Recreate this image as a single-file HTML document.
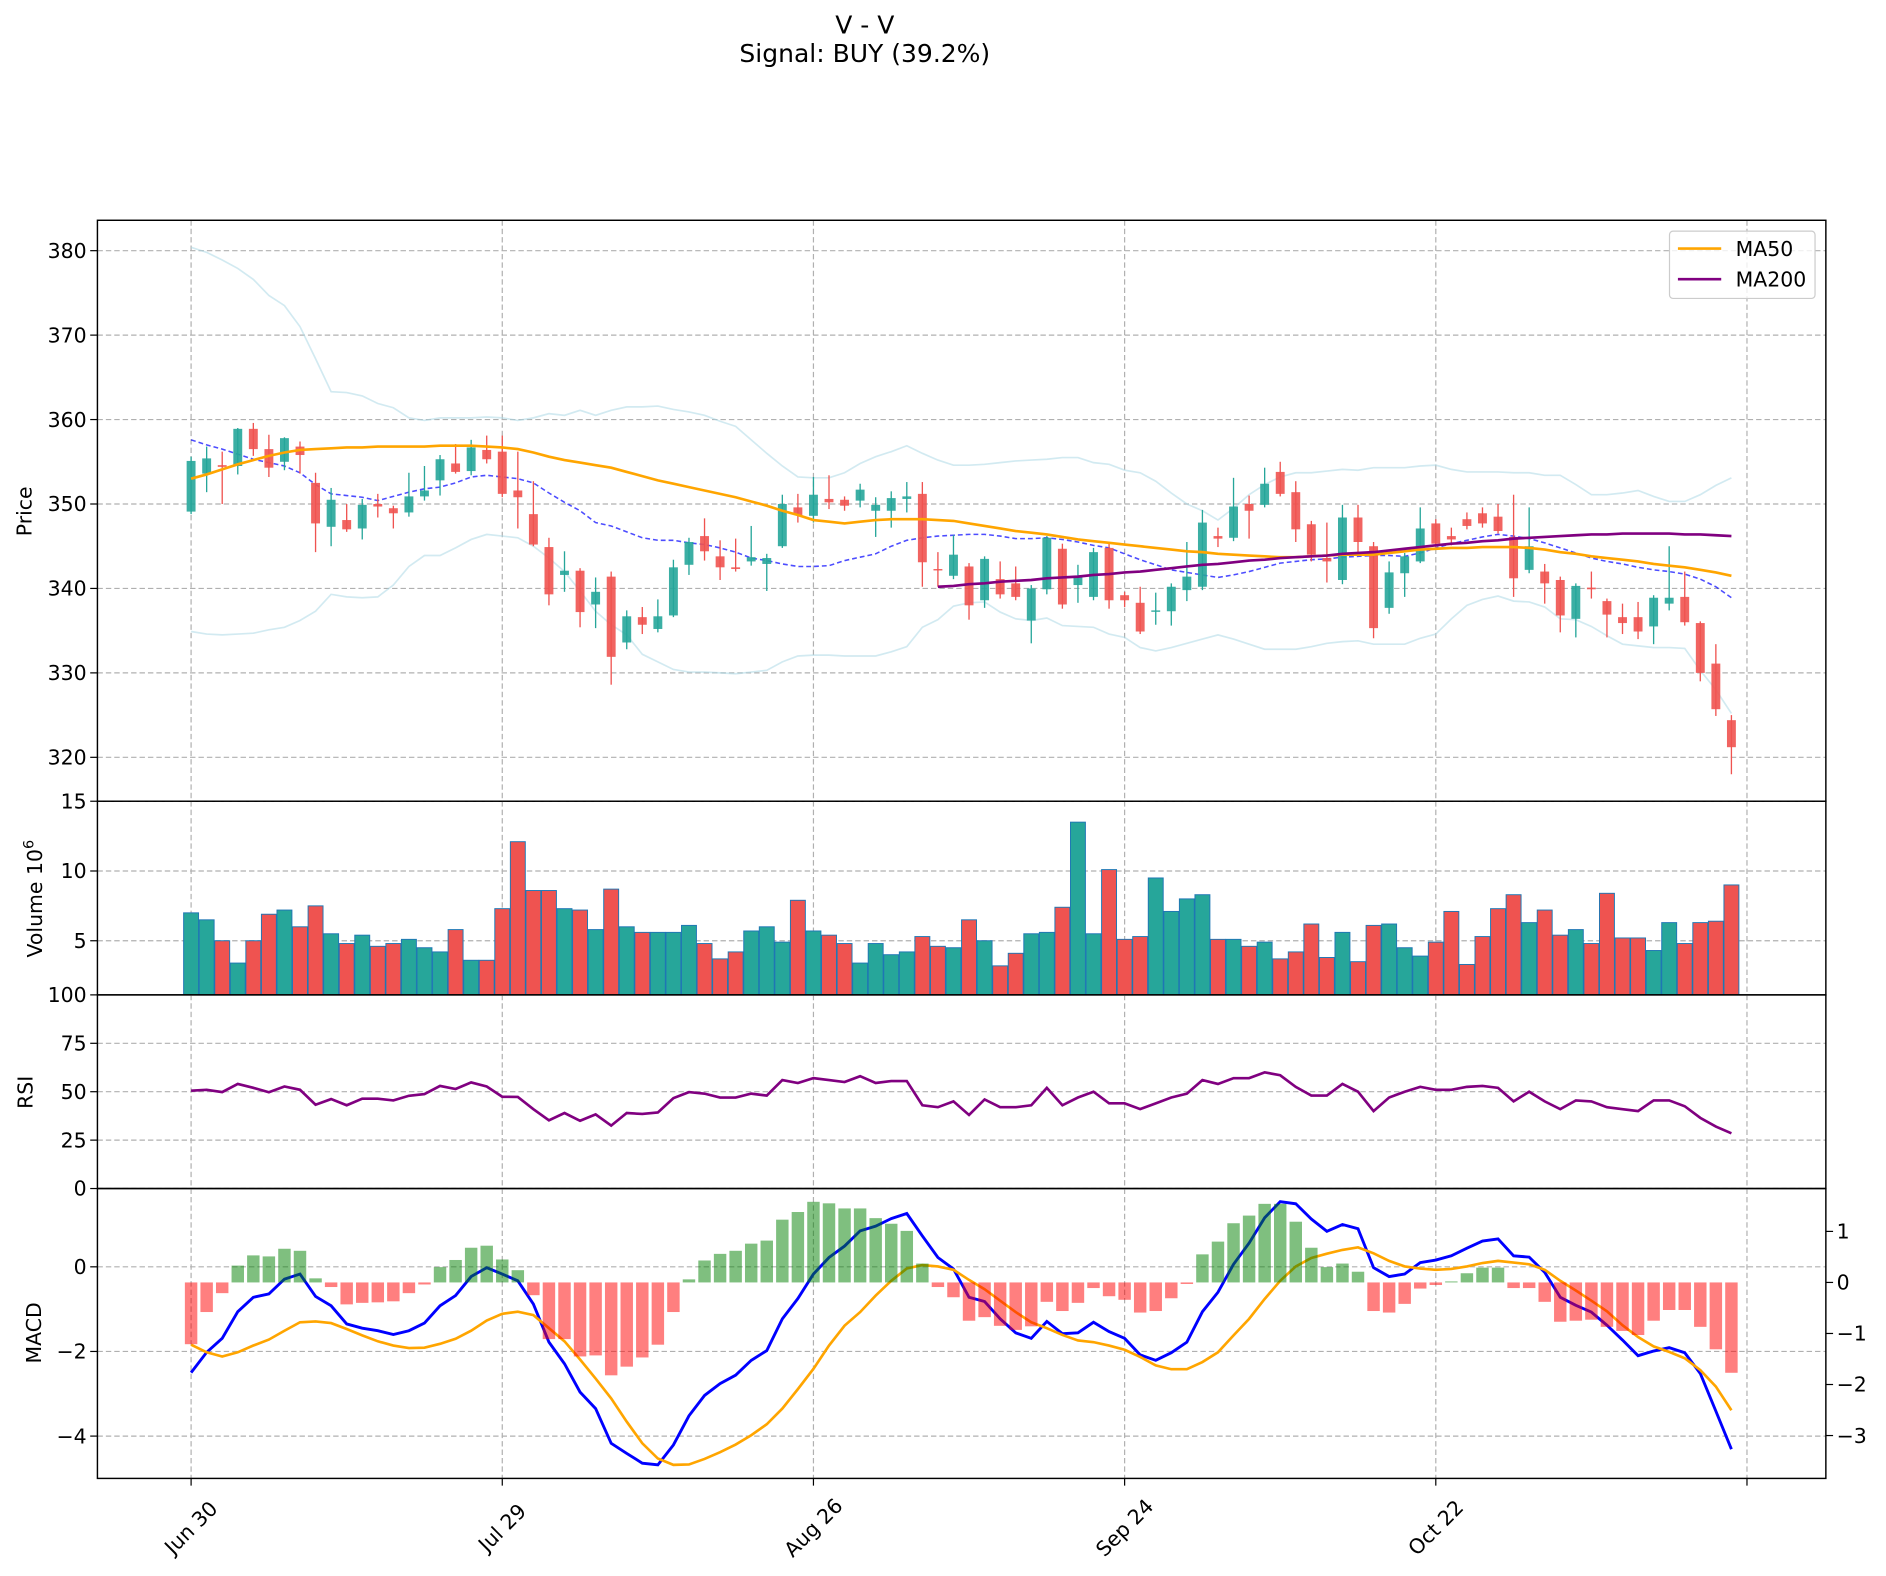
<!DOCTYPE html>
<html><head><meta charset="utf-8"><title>V - V</title>
<style>
html,body{margin:0;padding:0;background:#fff;}
svg{display:block;font-family:"DejaVu Sans","Liberation Sans",sans-serif;}
</style></head>
<body>
<svg id="chart" xmlns="http://www.w3.org/2000/svg" viewBox="0 0 1568 1310" width="1886" height="1576">
<rect x="0" y="0" width="1568" height="1310" fill="#fff"/>
<text x="719" y="27.6" font-size="20.8" text-anchor="middle" fill="#000">V - V</text>
<text x="719" y="51.4" font-size="20.8" text-anchor="middle" fill="#000">Signal: BUY (39.2%)</text>
<text transform="translate(26,425) rotate(-90)" font-size="17" text-anchor="middle">Price</text>
<text transform="translate(35,747) rotate(-90)" font-size="17" text-anchor="middle">Volume  10<tspan font-size="12" dy="-7">6</tspan></text>
<text transform="translate(27,908) rotate(-90)" font-size="17" text-anchor="middle">RSI</text>
<text transform="translate(34,1108) rotate(-90)" font-size="17" text-anchor="middle">MACD</text>
</svg>
<script>
// ---------- data ----------
const dateLabels = ["Jun 30","Jul 29","Aug 26","Sep 24","Oct 22",""];
const dateTickIdx = [0,20,40,60,80,100];
const openP = [349.1,353.6,354.6,354.5,358.9,356.5,355.0,356.8,352.5,347.3,348.1,347.1,350.0,349.5,349.0,350.9,352.8,354.8,353.9,356.4,356.2,351.6,348.8,344.9,341.6,342.1,338.1,341.4,333.6,336.6,335.2,336.8,342.8,346.2,343.8,342.5,343.2,342.9,345.0,349.6,348.6,350.6,350.5,350.4,349.2,349.2,350.6,351.2,342.3,341.5,342.6,338.6,341.1,340.6,336.2,339.9,344.7,340.4,339.0,344.8,339.2,338.3,337.3,337.3,339.8,340.2,346.2,346.0,350.0,349.9,353.8,351.4,347.6,343.6,341.0,348.4,345.0,337.7,341.8,343.2,347.7,346.2,348.2,348.9,348.5,346.1,342.2,342.0,341.0,336.4,340.1,338.5,336.6,336.6,335.5,338.2,339.0,335.9,331.1,324.4];
const closeP = [355.1,355.4,354.4,358.9,356.5,354.3,357.8,355.8,347.7,350.5,347.0,349.9,349.7,348.9,350.9,351.6,355.3,353.8,356.7,355.3,351.2,350.8,345.2,339.3,342.1,337.2,339.6,331.9,336.7,335.7,336.7,342.5,345.5,344.4,342.5,342.3,343.7,343.6,350.0,348.7,351.1,350.2,349.8,351.7,349.9,350.7,350.9,343.1,342.2,344.0,338.0,343.5,339.3,339.0,340.0,346.0,338.1,341.3,344.3,338.6,338.6,334.9,337.4,340.2,341.4,347.8,345.9,349.7,349.2,352.4,351.2,347.0,344.0,343.2,348.4,345.5,335.3,341.9,343.8,347.1,345.3,345.8,347.4,347.7,346.8,341.2,345.0,340.6,336.8,340.3,339.9,336.9,335.9,334.9,338.9,338.9,336.0,330.0,325.7,321.2];
const highP = [355.6,356.8,356.2,359.0,359.6,358.2,357.9,357.4,353.7,351.9,350.0,350.6,351.2,349.8,353.7,354.5,355.8,357.1,357.6,358.1,358.1,356.2,352.7,346.0,344.4,342.4,341.3,342.0,337.4,337.8,338.7,343.4,346.0,348.3,345.7,345.9,347.4,344.1,351.1,351.2,353.2,353.4,350.9,352.4,350.8,351.5,352.6,352.6,344.3,346.3,343.0,343.8,343.2,342.6,340.4,346.2,345.3,342.8,344.8,345.3,339.6,340.2,339.5,340.6,345.5,349.3,347.2,353.1,351.0,354.3,355.0,352.7,348.0,347.8,349.9,349.9,345.5,343.2,344.2,349.6,348.2,347.2,349.0,349.6,350.0,351.1,349.6,342.9,341.4,340.6,342.0,338.8,338.2,338.4,339.2,345.0,342.0,336.1,333.4,325.0];
const lowP = [348.8,351.4,350.0,353.5,355.7,353.2,354.0,353.6,344.3,345.0,346.7,345.8,348.4,347.1,348.5,350.4,351.0,353.6,353.4,354.8,350.8,347.1,345.0,338.0,339.6,335.4,335.3,328.6,332.8,334.6,334.8,336.6,341.6,343.3,341.0,342.0,342.7,339.7,344.8,347.8,347.8,349.4,349.2,349.6,346.1,347.2,349.0,340.2,340.2,341.1,336.3,337.7,338.8,338.6,333.5,339.3,337.6,338.3,338.6,337.6,337.8,334.6,335.7,335.6,338.5,339.8,344.9,345.6,345.9,349.6,350.9,345.5,343.2,340.7,340.5,344.3,334.1,337.0,339.0,343.0,344.9,345.1,347.0,347.2,346.5,339.0,341.8,338.2,334.8,334.2,338.8,334.2,334.6,334.0,333.4,337.4,335.6,329.0,324.9,318.0];
const ma50 = [353.0,353.5,354.1,354.7,355.2,355.7,356.1,356.4,356.5,356.6,356.7,356.7,356.8,356.8,356.8,356.8,356.9,356.9,356.9,356.8,356.7,356.5,356.1,355.6,355.2,354.9,354.6,354.3,353.8,353.3,352.8,352.4,352.0,351.6,351.2,350.8,350.3,349.8,349.2,348.7,348.1,347.9,347.7,347.9,348.1,348.2,348.2,348.2,348.1,348.0,347.7,347.4,347.1,346.8,346.6,346.4,346.1,345.8,345.6,345.4,345.2,345.0,344.8,344.6,344.4,344.3,344.1,344.0,343.9,343.8,343.7,343.7,343.8,343.9,344.0,344.0,344.0,344.2,344.4,344.6,344.7,344.8,344.8,344.9,344.9,344.9,344.8,344.6,344.3,344.1,343.8,343.6,343.4,343.2,342.9,342.7,342.5,342.2,341.9,341.5];
const ma200 = [null,null,null,null,null,null,null,null,null,null,null,null,null,null,null,null,null,null,null,null,null,null,null,null,null,null,null,null,null,null,null,null,null,null,null,null,null,null,null,null,null,null,null,null,null,null,null,null,340.2,340.3,340.5,340.6,340.8,340.9,341.0,341.2,341.3,341.4,341.6,341.7,341.9,342.0,342.2,342.4,342.6,342.8,342.9,343.1,343.3,343.4,343.6,343.7,343.8,343.9,344.1,344.2,344.3,344.5,344.7,344.9,345.1,345.3,345.4,345.6,345.7,345.9,346.0,346.1,346.2,346.3,346.4,346.4,346.5,346.5,346.5,346.5,346.4,346.4,346.3,346.2];
const bbMid = [357.6,357.0,356.5,355.9,355.3,354.9,354.5,353.7,352.3,351.2,351.0,350.8,350.4,350.9,351.4,351.8,352.0,352.5,353.2,353.4,353.2,353.0,352.5,351.3,350.2,349.2,347.8,347.4,346.7,346.0,345.7,345.7,345.4,345.2,344.8,344.3,343.6,343.3,342.9,342.6,342.6,342.7,343.3,343.7,344.1,345.0,345.7,346.0,346.2,346.3,346.4,346.4,346.2,345.9,345.9,346.0,345.8,345.5,345.1,344.8,344.1,343.4,342.8,342.2,341.9,341.6,341.3,341.6,342.0,342.5,343.0,343.2,343.4,343.5,343.7,343.8,343.9,343.9,343.8,344.2,344.8,345.3,345.7,346.1,346.4,346.2,345.9,345.4,344.8,344.2,343.6,343.2,342.9,342.5,342.2,342.0,341.7,341.1,340.2,338.9];
const bbUpper = [380.4,379.8,378.9,377.9,376.6,374.7,373.5,371.0,367.2,363.3,363.2,362.8,361.9,361.4,360.2,359.9,360.2,360.2,360.2,360.3,360.2,359.9,360.2,360.7,360.5,361.1,360.5,361.1,361.5,361.5,361.6,361.2,360.9,360.5,359.8,359.2,357.6,356.0,354.5,353.2,353.1,353.1,353.7,354.8,355.6,356.2,356.9,356.0,355.2,354.6,354.6,354.7,354.9,355.1,355.2,355.3,355.5,355.5,354.9,354.7,354.0,353.7,352.7,351.3,350.0,349.2,348.1,349.5,351.1,352.3,353.2,353.7,353.7,353.9,354.1,354.0,354.3,354.3,354.3,354.5,354.6,354.1,353.8,353.8,353.8,353.7,353.7,353.4,353.4,352.3,351.1,351.1,351.3,351.6,350.9,350.3,350.3,351.1,352.2,353.1];
const bbLower = [334.9,334.6,334.5,334.6,334.7,335.1,335.4,336.2,337.3,339.3,339.0,338.9,339.0,340.4,342.6,343.9,343.9,344.8,345.8,346.4,346.2,346.0,345.0,343.6,342.0,339.7,337.3,335.7,334.5,332.2,331.3,330.4,330.1,330.1,330.0,329.9,330.1,330.3,331.3,332.0,332.1,332.1,332.0,332.0,332.0,332.5,333.1,335.4,336.3,337.9,338.3,338.4,337.2,336.4,336.2,336.5,335.6,335.5,335.4,334.6,334.2,333.0,332.6,333.0,333.5,334.0,334.5,334.0,333.4,332.8,332.8,332.8,333.1,333.5,333.7,333.8,333.4,333.4,333.4,334.1,334.6,336.4,338.0,338.7,339.1,338.5,338.4,337.8,336.4,336.3,335.5,334.4,333.4,333.2,333.0,333.0,332.9,330.3,328.0,325.2];
const volume = [7.0,6.5,5.0,3.4,5.0,6.9,7.2,6.0,7.5,5.5,4.8,5.4,4.6,4.8,5.1,4.5,4.2,5.8,3.6,3.6,7.3,12.1,8.6,8.6,7.3,7.2,5.8,8.7,6.0,5.6,5.6,5.6,6.1,4.8,3.7,4.2,5.7,6.0,4.9,7.9,5.7,5.4,4.8,3.4,4.8,4.0,4.2,5.3,4.6,4.5,6.5,5.0,3.2,4.1,5.5,5.6,7.4,13.5,5.5,10.1,5.1,5.3,9.5,7.1,8.0,8.3,5.1,5.1,4.6,4.9,3.7,4.2,6.2,3.8,5.6,3.5,6.1,6.2,4.5,3.9,4.9,7.1,3.3,5.3,7.3,8.3,6.3,7.2,5.4,5.8,4.8,8.4,5.2,5.2,4.3,6.3,4.8,6.3,6.4,9.0];
const rsi = [50.5,51,49.8,54,52,49.7,52.7,51,43.3,46.2,43,46.4,46.4,45.5,47.9,48.8,53,51.4,54.8,52.7,47.4,47.3,41,35.2,39,35,38.3,32.5,39,38.5,39.3,46.7,49.8,49,47,47,49,48,56,54.5,57,56,55,58,54.5,55.5,55.5,43,42,45,38,46,42,42,43,52,43,47,50,44,44,41,44,47,49,56,54,57,57,60,58.5,52.5,48,48,54,50,40,47,50,52.5,51,51,52.5,53,52,45,50,45,41,45.5,45,42,41,40,45.5,45.5,42.5,36.5,32,28.5];
const macd = [-2.50,-2.02,-1.69,-1.06,-0.72,-0.64,-0.29,-0.17,-0.70,-0.92,-1.35,-1.45,-1.51,-1.60,-1.51,-1.33,-0.92,-0.68,-0.23,-0.02,-0.17,-0.33,-0.88,-1.78,-2.29,-2.96,-3.35,-4.17,-4.41,-4.64,-4.68,-4.21,-3.52,-3.04,-2.76,-2.56,-2.21,-1.98,-1.23,-0.75,-0.17,0.22,0.49,0.85,0.96,1.14,1.26,0.73,0.22,-0.05,-0.72,-0.82,-1.23,-1.56,-1.69,-1.29,-1.58,-1.56,-1.31,-1.53,-1.69,-2.08,-2.21,-2.03,-1.78,-1.06,-0.60,0.06,0.56,1.16,1.54,1.49,1.13,0.84,1.00,0.90,-0.02,-0.23,-0.17,0.10,0.16,0.26,0.44,0.61,0.66,0.26,0.23,-0.13,-0.72,-0.91,-1.07,-1.38,-1.73,-2.10,-1.99,-1.91,-2.03,-2.52,-3.41,-4.31];
const signalLine = [-1.84,-2.02,-2.12,-2.02,-1.86,-1.72,-1.51,-1.31,-1.29,-1.33,-1.47,-1.62,-1.76,-1.86,-1.92,-1.91,-1.82,-1.70,-1.51,-1.27,-1.11,-1.06,-1.14,-1.45,-1.76,-2.19,-2.64,-3.11,-3.66,-4.17,-4.53,-4.68,-4.67,-4.54,-4.38,-4.20,-3.98,-3.72,-3.35,-2.89,-2.41,-1.86,-1.39,-1.07,-0.68,-0.33,-0.04,0.04,0.01,-0.07,-0.31,-0.53,-0.80,-1.07,-1.31,-1.45,-1.61,-1.74,-1.78,-1.86,-1.96,-2.13,-2.33,-2.42,-2.42,-2.25,-2.02,-1.62,-1.23,-0.76,-0.33,0.01,0.21,0.31,0.40,0.46,0.32,0.14,0.01,-0.04,-0.07,-0.05,0.01,0.09,0.14,0.10,0.06,-0.07,-0.33,-0.56,-0.80,-1.05,-1.38,-1.66,-1.88,-2.01,-2.16,-2.44,-2.83,-3.39];
const macdHist = [-1.21,-0.58,-0.21,0.33,0.53,0.51,0.66,0.62,0.08,-0.09,-0.43,-0.40,-0.39,-0.37,-0.21,-0.04,0.30,0.44,0.68,0.72,0.45,0.24,-0.25,-1.11,-1.11,-1.45,-1.43,-1.82,-1.65,-1.47,-1.22,-0.58,0.06,0.43,0.56,0.62,0.76,0.82,1.23,1.38,1.58,1.55,1.45,1.45,1.26,1.15,1.01,0.37,-0.09,-0.29,-0.75,-0.68,-0.85,-0.93,-0.86,-0.38,-0.56,-0.40,-0.11,-0.27,-0.34,-0.59,-0.56,-0.31,-0.03,0.55,0.80,1.16,1.31,1.54,1.54,1.19,0.68,0.30,0.37,0.21,-0.56,-0.59,-0.42,-0.12,-0.05,0.02,0.18,0.29,0.29,-0.11,-0.11,-0.38,-0.77,-0.75,-0.73,-0.87,-0.95,-1.03,-0.75,-0.54,-0.54,-0.87,-1.31,-1.77];
const priceTicks = [320,330,340,350,360,370,380];
const volumeTicks = [5,10,15];
const rsiTicks = [0,25,50,75,100];
const macdTicks = [-4,-2,0];
const histTicks = [-3,-2,-1,0,1];

// ---------- layout ----------
const NS = "http://www.w3.org/2000/svg";
const svg = document.getElementById('chart');
const PL = 81, PR = 1518, XMIN = -6.02, XMAX = 105.07;
const P = {top:183, bot:666, min:314.8, max:383.6};
const V = {top:666, bot:827, min:1.12, max:15};
const R = {top:827, bot:988, min:0, max:100};
const M = {top:988, bot:1229, min:-5.0, max:1.85};
const H = {top:988, bot:1229, min:-3.84, max:1.84};
const GREEN = "#26a69a", RED = "#ef5350";
const DAY = (PR - PL) / (XMAX - XMIN);
function xs(i){ return PL + (i - XMIN) / (XMAX - XMIN) * (PR - PL); }
function ys(ax, v){ return ax.bot - (v - ax.min) / (ax.max - ax.min) * (ax.bot - ax.top); }
function mk(tag, attrs, parent){
  const e = document.createElementNS(NS, tag);
  for (const k in attrs) e.setAttribute(k, attrs[k]);
  (parent || svg).appendChild(e);
  return e;
}
const defs = mk('defs', {});
[['clipP',P],['clipV',V],['clipR',R],['clipM',M]].forEach(([id,ax])=>{
  const c = mk('clipPath', {id:id}, defs);
  mk('rect', {x:PL, y:ax.top, width:PR-PL, height:ax.bot-ax.top}, c);
});
function panel(name, ax, clip, hTicks, fmt){
  const g = mk('g', {});
  
  
  const grid = mk('g', {stroke:'#b0b0b0', 'stroke-width':1, 'stroke-dasharray':'4.5,2.5', 'clip-path':'url(#'+clip+')'}, g);
  
  
  dateTickIdx.forEach(i=>{ mk('line', {x1:xs(i), x2:xs(i), y1:ax.top, y2:ax.bot}, grid); });
  hTicks.forEach(t=>{ const y = ys(ax,t); mk('line', {x1:PL, x2:PR, y1:y, y2:y}, grid); });
  const tg = mk('g', {}, g);
  
  
  hTicks.forEach(t=>{
    const y = ys(ax,t);
    mk('line', {x1:PL-6, x2:PL, y1:y, y2:y, stroke:'#000', 'stroke-width':1}, tg);
    const lb = mk('text', {x:PL-9, y:y+6, 'font-size':17, 'text-anchor':'end'}, tg);
    lb.textContent = fmt ? fmt(t) : String(t);
    
    
  });
  const marks = mk('g', {'clip-path':'url(#'+clip+')'}, g);
  
  
  return {g:g, marks:marks};
}
function frame(g, ax, name){
  const f = mk('rect', {x:PL, y:ax.top, width:PR-PL, height:ax.bot-ax.top, fill:'none', stroke:'#000', 'stroke-width':1.2}, g);
  
  
}
function linePath(arr, ax){
  let d = '', pen = false;
  arr.forEach((v,i)=>{
    if (v === null) { pen = false; return; }
    d += (pen ? 'L' : 'M') + xs(i).toFixed(2) + ',' + ys(ax,v).toFixed(2);
    pen = true;
  });
  return d;
}
const minus = t => (t < 0 ? '\u2212' + Math.abs(t) : String(t));

// ---------- price panel ----------
const pp = panel('price', P, 'clipP', priceTicks);
let e;
e = mk('path', {d:linePath(bbUpper,P), fill:'none', stroke:'#add8e6', 'stroke-opacity':0.55, 'stroke-width':1.4}, pp.marks);


e = mk('path', {d:linePath(bbLower,P), fill:'none', stroke:'#add8e6', 'stroke-opacity':0.55, 'stroke-width':1.4}, pp.marks);


e = mk('path', {d:linePath(bbMid,P), fill:'none', stroke:'#0000ff', 'stroke-opacity':0.7, 'stroke-width':1.3, 'stroke-dasharray':'4,2.5'}, pp.marks);


for (let i = 0; i < openP.length; i++){
  const up = closeP[i] >= openP[i];
  const col = up ? GREEN : RED;
  const cg = mk('g', {}, pp.marks);
  
  
  mk('line', {x1:xs(i), x2:xs(i), y1:ys(P,highP[i]), y2:ys(P,lowP[i]), stroke:col, 'stroke-width':1.1}, cg);
  const yt = ys(P, Math.max(openP[i], closeP[i])), yb = ys(P, Math.min(openP[i], closeP[i]));
  mk('rect', {x:xs(i)-3.7, y:yt, width:7.4, height:Math.max(yb-yt,1.2), fill:col, 'fill-opacity':0.9}, cg);
}
e = mk('path', {d:linePath(ma50,P), fill:'none', stroke:'#ffa500', 'stroke-width':2.2}, pp.marks);


e = mk('path', {d:linePath(ma200,P), fill:'none', stroke:'#800080', 'stroke-width':2.2}, pp.marks);


frame(pp.g, P, 'price');
// legend
const lg = mk('g', {}, pp.g);


mk('rect', {x:1388, y:192, width:121, height:56, rx:3, fill:'#fff', 'fill-opacity':0.8, stroke:'#cccccc', 'stroke-width':1}, lg);
const le1 = mk('g', {}, lg);


mk('line', {x1:1395, x2:1431, y1:206.5, y2:206.5, stroke:'#ffa500', 'stroke-width':2.2}, le1);
e = mk('text', {x:1443, y:212.5, 'font-size':17}, le1); e.textContent = 'MA50';
const le2 = mk('g', {}, lg);


mk('line', {x1:1395, x2:1431, y1:232, y2:232, stroke:'#800080', 'stroke-width':2.2}, le2);
e = mk('text', {x:1443, y:238, 'font-size':17}, le2); e.textContent = 'MA200';

// ---------- volume panel ----------
const vp = panel('volume', V, 'clipV', volumeTicks);
for (let i = 0; i < volume.length; i++){
  const col = closeP[i] >= openP[i] ? GREEN : RED;
  const y = ys(V, volume[i]);
  const b = mk('rect', {x:xs(i)-DAY*0.48, y:y, width:DAY*0.96, height:V.bot-y+2, fill:col, stroke:'#1f77b4', 'stroke-width':0.8}, vp.marks);
  
  
}
frame(vp.g, V, 'volume');

// ---------- RSI panel ----------
const rp = panel('rsi', R, 'clipR', rsiTicks);
e = mk('path', {d:linePath(rsi,R), fill:'none', stroke:'#800080', 'stroke-width':2.2}, rp.marks);


frame(rp.g, R, 'rsi');

// ---------- MACD panel ----------
const mp = panel('macd', M, 'clipM', macdTicks, minus);
e = mk('path', {d:linePath(macd,M), fill:'none', stroke:'#0000ff', 'stroke-width':2.4}, mp.marks);


e = mk('path', {d:linePath(signalLine,M), fill:'none', stroke:'#ffa500', 'stroke-width':2.2}, mp.marks);


const y0 = ys(H, 0);
for (let i = 0; i < macdHist.length; i++){
  const v = macdHist[i];
  const y = ys(H, v);
  const b = mk('rect', {x:xs(i)-DAY*0.4, y:Math.min(y,y0), width:DAY*0.8, height:Math.abs(y-y0), fill:v >= 0 ? '#008000' : '#ff0000', 'fill-opacity':0.5}, mp.marks);
  
  
}
frame(mp.g, M, 'macd');
// right axis ticks
const rt = mk('g', {});


histTicks.forEach(t=>{
  const y = ys(H,t);
  mk('line', {x1:PR, x2:PR+6, y1:y, y2:y, stroke:'#000', 'stroke-width':1}, rt);
  const lb = mk('text', {x:PR+9, y:y+6, 'font-size':17}, rt);
  lb.textContent = minus(t);
  
  
});
// x axis ticks
const xt = mk('g', {});


dateTickIdx.forEach((ix,k)=>{
  const x = xs(ix);
  mk('line', {x1:x, x2:x, y1:M.bot, y2:M.bot+6, stroke:'#000', 'stroke-width':1}, xt);
  if (dateLabels[k]){
    const lb = mk('text', {x:x, y:1270, 'font-size':17, 'text-anchor':'middle', 'dominant-baseline':'central', transform:'rotate(-45 '+x+' 1270)'}, xt);
    lb.textContent = dateLabels[k];
    
    
  }
});
</script>
</body></html>
